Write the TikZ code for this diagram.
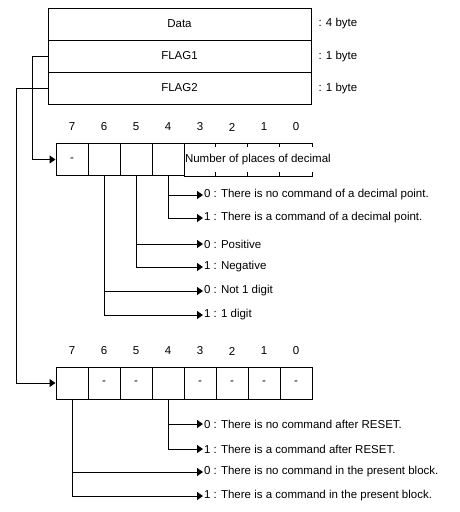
\documentclass[tikz,border=0pt]{standalone}
\usepackage{fontspec}
\setmainfont{Liberation Sans}
\usetikzlibrary{arrows.meta}
\begin{document}
\begin{tikzpicture}[x=1pt,y=-1pt,line width=1pt,
  font=\fontsize{11.5}{13}\selectfont,
  field/.style={draw,minimum width=263pt,minimum height=32pt,inner sep=0pt},
  bitcell/.style={draw,minimum width=32pt,minimum height=32pt,inner sep=0pt},
  opencell/.style={minimum width=32pt,minimum height=32pt,inner sep=0pt},
  bitnum/.style={inner sep=0pt},
  outcome/.style={anchor=west,inner sep=0.5pt},
  sizelbl/.style={anchor=west,inner sep=0pt},
  arr/.style={-{Triangle[length=6pt,width=8pt]}}]
\useasboundingbox (0,0) rectangle (460,512);
% record
\node[field] (data) at (179.5,24) {Data};
\node[field] (flag1) at (179.5,56) {FLAG1};
\node[field] (flag2) at (179.5,88) {FLAG2};
\node[sizelbl] (s1) at (318,24) {: 4 byte};
\node[sizelbl] (s2) at (318,57) {: 1 byte};
\node[sizelbl] (s3) at (318,89) {: 1 byte};
% first register (FLAG1)
\foreach \b/\x in {7/72,6/104,5/136,4/168,3/200,2/232,1/264,0/296}{
  \node[bitnum] (na\b) at (\x,127) {\b};
}
\node[bitcell] (a7) at (72,159.5) {-};
\node[bitcell] (a6) at (104,159.5) {};
\node[bitcell] (a5) at (136,159.5) {};
\node[bitcell] (a4) at (168,159.5) {};
\node[opencell] (a3) at (200,159.5) {};
\node[opencell] (a2) at (232,159.5) {};
\node[opencell] (a1) at (264,159.5) {};
\node[opencell] (a0) at (296,159.5) {};
\draw (a3.north west) -- (a0.north east);
\draw (a3.south west) -- (a0.south east);
\foreach \c in {a2,a1,a0}{
  \draw (\c.north west) -- ++(0,4);
  \draw (\c.south west) -- ++(0,-4);
}
\draw (a0.north east) -- ++(0,4);
\draw (a0.south east) -- ++(0,-4);
\node[anchor=west,inner sep=1pt] (ndec) at (a3.west) {Number of places of decimal};
% outcomes of first register
\node[outcome] (o40) at (203,195) {0 : There is no command of a decimal point.};
\node[outcome] (o41) at (203,218) {1 : There is a command of a decimal point.};
\node[outcome] (o50) at (203,244) {0 : Positive};
\node[outcome] (o51) at (203,267) {1 : Negative};
\node[outcome] (o60) at (203,291) {0 : Not 1 digit};
\node[outcome] (o61) at (203,315) {1 : 1 digit};
\draw[arr] (a4.south) |- (o40.west);
\draw[arr] (a4.south) |- (o41.west);
\draw[arr] (a5.south) |- (o50.west);
\draw[arr] (a5.south) |- (o51.west);
\draw[arr] (a6.south) |- (o60.west);
\draw[arr] (a6.south) |- (o61.west);
% second register (FLAG2)
\foreach \b/\x in {7/72,6/104,5/136,4/168,3/200,2/232,1/264,0/296}{
  \node[bitnum] (nb\b) at (\x,351) {\b};
}
\node[bitcell] (b7) at (72,383) {};
\node[bitcell] (b6) at (104,383) {-};
\node[bitcell] (b5) at (136,383) {-};
\node[bitcell] (b4) at (168,383) {};
\node[bitcell] (b3) at (200,383) {-};
\node[bitcell] (b2) at (232,383) {-};
\node[bitcell] (b1) at (264,383) {-};
\node[bitcell] (b0) at (296,383) {-};
\node[outcome] (p40) at (203,424) {0 : There is no command after RESET.};
\node[outcome] (p41) at (203,449) {1 : There is a command after RESET.};
\node[outcome] (p70) at (203,472) {0 : There is no command in the present block.};
\node[outcome] (p71) at (203,496) {1 : There is a command in the present block.};
\draw[arr] (b4.south) |- (p40.west);
\draw[arr] (b4.south) |- (p41.west);
\draw[arr] (b7.south) |- (p70.west);
\draw[arr] (b7.south) |- (p71.west);
% connectors from record to registers
\coordinate (k1) at (32,56);
\coordinate (k2) at (16,88);
\draw[arr] (flag1.west) -- (k1) |- (a7.west);
\draw[arr] (flag2.west) -- (k2) |- (b7.west);
\end{tikzpicture}
\end{document}
